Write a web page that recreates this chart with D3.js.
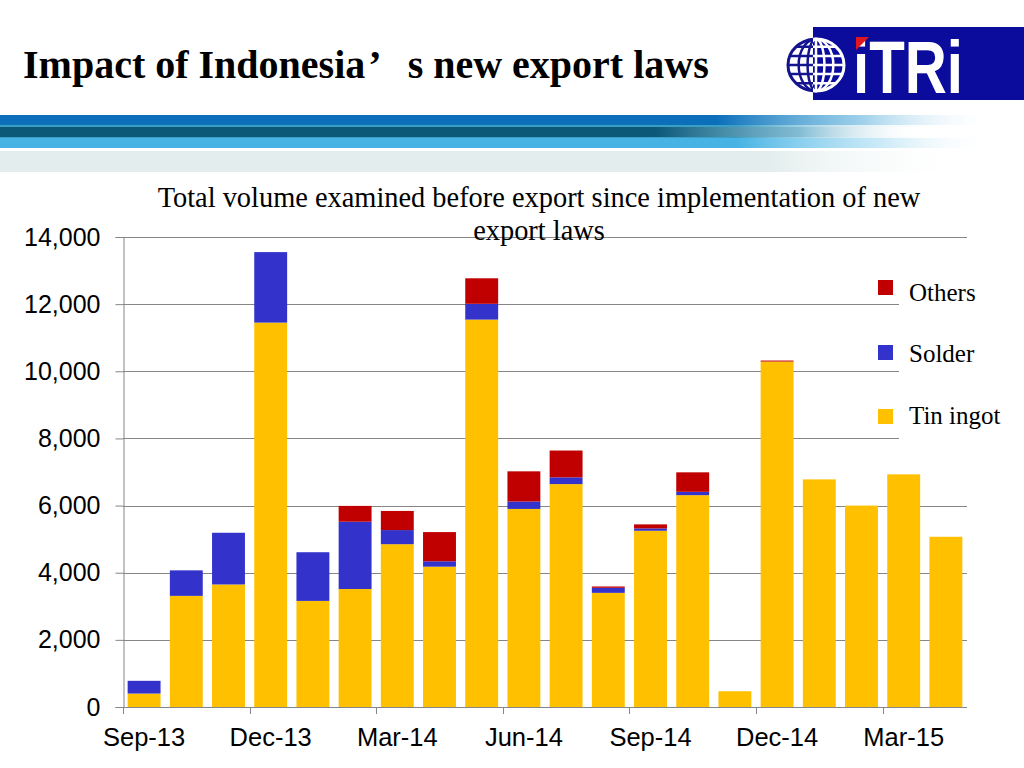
<!DOCTYPE html>
<html>
<head>
<meta charset="utf-8">
<script src="https://cdn.jsdelivr.net/npm/d3@7"></script>
<style>
  html, body { margin: 0; padding: 0; background: #fff; }
  svg { display: block; }
</style>
</head>
<body>
<svg id="chart" width="1024" height="768"></svg>
<script>
// ---- Data ----
const months = ["Sep-13","Oct-13","Nov-13","Dec-13","Jan-14","Feb-14","Mar-14","Apr-14","May-14","Jun-14",
                "Jul-14","Aug-14","Sep-14","Oct-14","Nov-14","Dec-14","Jan-15","Feb-15","Mar-15","Apr-15"];
const tinIngot = [400,3310,3650,11450,3160,3515,4850,4180,11540,5900,6640,3400,5250,6310,470,10290,6780,6000,6930,5070];
const solder   = [380,760,1540,2100,1450,2005,420,160,470,220,200,150,70,100,0,0,0,0,0,0];
const others   = [0,0,0,0,0,470,570,870,760,900,800,40,120,580,0,30,0,0,0,0];
const seriesNames = ["Tin ingot","Solder","Others"];
const seriesColors = ["#FFC000","#3333CC","#C00000"];
const yTicks = [0,2000,4000,6000,8000,10000,12000,14000];
const xLabelMonths = ["Sep-13","Dec-13","Mar-14","Jun-14","Sep-14","Dec-14","Mar-15"];
const titleText = ["Impact of Indonesia", "\u2019", " s new export laws"];
const subtitleLines = ["Total volume examined before export since implementation of new", "export laws"];

const svg = d3.select("#chart");
const defs = svg.append("defs");

// ---- Header stripes ----
function grad(id, stops) {
  const g = defs.append("linearGradient").attr("id", id).attr("x1","0").attr("x2","1").attr("y1","0").attr("y2","0");
  stops.forEach(s => g.append("stop").attr("offset", s[0]).attr("stop-color", s[1]).attr("stop-opacity", s[2]));
}
grad("gBlue",  [[0,"#0b6fba",1],[0.7,"#0b6fba",1],[0.84,"#5ab0dc",0.6],[0.97,"#ffffff",0]]);
grad("gThin",  [[0,"#3a9fc4",1],[0.72,"#3a9fc4",1],[0.92,"#ffffff",0]]);
grad("gDark",  [[0,"#0b5878",1],[0.64,"#0b5878",1],[0.78,"#4a9ec0",0.7],[0.9,"#ffffff",0]]);
grad("gLight", [[0,"#47b3e4",1],[0.72,"#47b3e4",1],[0.86,"#a8dcf2",0.6],[0.97,"#ffffff",0]]);
grad("gPale",  [[0,"#e3eded",1],[0.75,"#e3eded",1],[0.95,"#ffffff",0]]);

const header = svg.append("g");
[[115,10,"gBlue"],[125,2,"gThin"],[127,10,"gDark"],[137,1,"gThin"],[138,10,"gLight"],[151,21,"gPale"]]
  .forEach(b => header.append("rect").attr("x",0).attr("y",b[0]).attr("width",1024).attr("height",b[1]).attr("fill",`url(#${b[2]})`));

// ---- Title ----
const title = svg.append("text").attr("x",23).attr("y",78)
  .attr("font-family","'Liberation Serif','Times New Roman',serif").attr("font-weight","bold")
  .attr("font-size",40).attr("fill","#000");
title.append("tspan").text(titleText[0]);
title.append("tspan").attr("dx",3).text(titleText[1]);
title.append("tspan").attr("dx",19).text(titleText[2]);

// ---- Logo ----
const logo = svg.append("g");
logo.append("rect").attr("x",813).attr("y",27).attr("width",211).attr("height",73).attr("fill","#0c0c9c");
const gcx = 816, gcy = 65, grx = 28, gry = 26;
defs.append("clipPath").attr("id","clipL").append("rect").attr("x",0).attr("y",0).attr("width",813).attr("height",768);
defs.append("clipPath").attr("id","clipR").append("rect").attr("x",813).attr("y",0).attr("width",300).attr("height",768);
function globe(g, fillC, lineC) {
  g.append("ellipse").attr("cx",gcx).attr("cy",gcy).attr("rx",grx).attr("ry",gry).attr("fill",fillC).attr("stroke",lineC).attr("stroke-width",3);
  [0.3,0.62].forEach(f => g.append("ellipse").attr("cx",gcx).attr("cy",gcy).attr("rx",grx*f).attr("ry",gry)
      .attr("fill","none").attr("stroke",lineC).attr("stroke-width",2.5));
  g.append("line").attr("x1",gcx).attr("x2",gcx).attr("y1",gcy-gry).attr("y2",gcy+gry).attr("stroke",lineC).attr("stroke-width",2.5);
  [-0.7,-0.35,0,0.35,0.7].forEach(f => {
    const yy = gcy + f*gry, half = grx*Math.sqrt(1-f*f);
    g.append("line").attr("x1",gcx-half).attr("x2",gcx+half).attr("y1",yy).attr("y2",yy).attr("stroke",lineC).attr("stroke-width",2.5);
  });
}
globe(logo.append("g").attr("clip-path","url(#clipL)"), "#ffffff", "#14148f");
globe(logo.append("g").attr("clip-path","url(#clipR)"), "#0c0c9c", "#ffffff");
logo.append("text").attr("x",853).attr("y",93).attr("font-family","'Liberation Sans',Arial,sans-serif")
  .attr("font-weight","bold").attr("font-size",74).attr("fill","#fff")
  .attr("textLength",110).attr("lengthAdjust","spacingAndGlyphs").text("iTRi");
logo.append("polygon").attr("points","856,37 869,37 856,50").attr("fill","#e0161e");

// ---- Chart ----
const plotL = 123, plotR = 967, plotB = 707, plotT = 237;
const x = d3.scaleBand().domain(months).range([plotL, plotR]).paddingInner(0.22).paddingOuter(0.11);
const y = d3.scaleLinear().domain([0, 14000]).range([plotB, plotT]);

const table = months.map((m, i) => ({month: m, "Tin ingot": tinIngot[i], "Solder": solder[i], "Others": others[i]}));
const stacked = d3.stack().keys(seriesNames)(table);

// gridlines
const grid = svg.append("g");
yTicks.filter(t => t > 0).forEach(t => {
  grid.append("line").attr("x1",plotL).attr("x2",plotR).attr("y1",Math.round(y(t))+0.5).attr("y2",Math.round(y(t))+0.5)
    .attr("stroke","#868686").attr("stroke-width",1);
});

// bars
const barsG = svg.append("g");
stacked.forEach((s, si) => {
  barsG.append("g").attr("fill", seriesColors[si]).selectAll("rect").data(s).join("rect")
    .attr("x", d => x(d.data.month))
    .attr("width", x.bandwidth())
    .attr("y", d => y(d[1]))
    .attr("height", d => Math.max(0, y(d[0]) - y(d[1])));
});

// y axis
const yAxis = svg.append("g").attr("transform",`translate(${plotL + 0.5},0)`)
  .call(d3.axisLeft(y).tickValues(yTicks).tickFormat(d3.format(",")).tickSize(8).tickPadding(15));
yAxis.select(".domain").attr("stroke","#868686");
yAxis.selectAll(".tick line").attr("stroke","#868686");
yAxis.selectAll(".tick text").attr("font-family","'Liberation Sans',Arial,sans-serif").attr("font-size",25).attr("fill","#000");

// x axis
const step = x.step();
const gap = (step - x.bandwidth()) / 2;
const xAxisG = svg.append("g");
xAxisG.append("line").attr("x1",plotL).attr("x2",plotR).attr("y1",plotB+0.5).attr("y2",plotB+0.5).attr("stroke","#868686");
xLabelMonths.forEach(m => {
  const edge = Math.round(x(m) - gap) + 0.5;
  xAxisG.append("line").attr("x1",edge).attr("x2",edge).attr("y1",plotB).attr("y2",plotB+7).attr("stroke","#868686");
  xAxisG.append("text").attr("x", x(m) + x.bandwidth()/2).attr("y", plotB + 39)
    .attr("text-anchor","middle").attr("font-family","'Liberation Sans',Arial,sans-serif").attr("font-size",25.5)
    .attr("fill","#000").text(m);
});

// subtitle
subtitleLines.forEach((t, i) => {
  svg.append("text").attr("x",539).attr("y",207 + i*33).attr("text-anchor","middle")
    .attr("font-family","'Liberation Serif','Times New Roman',serif").attr("font-size",28.4).attr("fill","#000").text(t);
});

// legend
const legend = svg.append("g");
legend.append("rect").attr("x",899).attr("y",265).attr("width",125).attr("height",180).attr("fill","#fff");
const legendOrder = [2,1,0];
const legendSquareY = [280,345,409];
const legendTextY = [301,362,424];
legendOrder.forEach((si, k) => {
  legend.append("rect").attr("x",878).attr("y",legendSquareY[k]).attr("width",15).attr("height",15).attr("fill",seriesColors[si]);
  legend.append("text").attr("x",909).attr("y",legendTextY[k]).attr("font-family","'Liberation Serif','Times New Roman',serif")
    .attr("font-size",25).attr("fill","#000").text(seriesNames[si]);
});
</script>
</body>
</html>
